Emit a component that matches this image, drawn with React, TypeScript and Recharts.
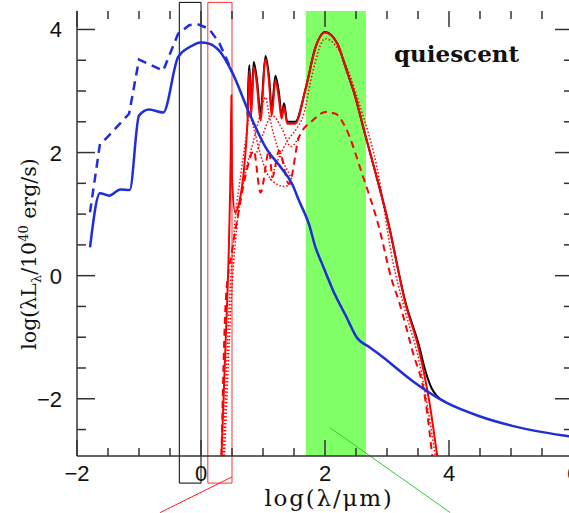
import {
	Label,
	Line,
	LineChart,
	ReferenceArea,
	ReferenceLine,
	XAxis,
	YAxis
} from 'recharts';

type Pt = { x: number; y: number };

// log(lambda/um) vs log(lambda L_lambda / 1e40 erg/s)
const xTicks = [-2, -1.5, -1, -0.5, 0, 0.5, 1, 1.5, 2, 2.5, 3, 3.5, 4, 4.5, 5, 5.5, 6];
const yTicks = [-2.5, -2, -1.5, -1, -0.5, 0, 0.5, 1, 1.5, 2, 2.5, 3, 3.5, 4];
const xLabels = [-2, 0, 2, 4, 6];
const yLabels = [-2, 0, 2, 4];

const starX = [-1.79, -1.63, -1.48, -1.3, -1.15, -1.0, -0.84, -0.61, -0.37, -0.19, 0.0, 0.13, 0.29, 0.5, 0.77, 1.04, 1.31, 1.47, 1.58, 1.74, 1.85, 1.95, 2.13, 2.35, 2.51, 2.73, 2.94, 3.41, 3.95, 4.48, 5.02, 5.56, 6.0];
const starY = [0.46, 1.34, 1.3, 1.4, 1.39, 2.6, 2.7, 2.65, 3.55, 3.71, 3.79, 3.77, 3.66, 3.31, 2.66, 2.09, 1.73, 1.49, 1.22, 0.84, 0.45, 0.2, -0.24, -0.68, -1.0, -1.17, -1.33, -1.71, -2.06, -2.28, -2.44, -2.55, -2.62];

const intrX = [-1.79, -1.63, -1.54, -1.16, -1.0, -0.61, -0.37, -0.19, -0.06, 0.13, 0.29, 0.4, 0.5];
const intrY = [1.03, 2.14, 2.22, 2.63, 3.51, 3.33, 3.93, 4.07, 4.09, 4.01, 3.79, 3.55, 3.31];

const dustX = [0.33, 0.4, 0.45, 0.48, 0.49, 0.5, 0.55, 0.62, 0.7, 0.75, 0.78, 0.81, 0.85, 0.9, 0.96, 1.04, 1.1, 1.14, 1.2, 1.26, 1.3, 1.34, 1.39, 1.52, 1.69, 1.85, 2.0, 2.2, 2.33, 2.49, 2.63, 2.82, 3.0, 3.3, 3.52, 3.68, 3.81];
const dustY = [-2.93, -1.0, 0.5, 2.0, 2.93, 1.6, 1.03, 1.2, 1.8, 2.5, 3.33, 2.6, 3.39, 3.12, 2.52, 3.52, 3.12, 2.6, 3.17, 2.85, 2.55, 2.74, 2.47, 2.47, 3.05, 3.72, 3.95, 3.77, 3.39, 2.9, 2.36, 1.65, 0.95, -0.46, -1.22, -2.03, -2.93];

const totalX = [0.75, 0.78, 0.81, 0.85, 0.9, 0.96, 1.04, 1.1, 1.14, 1.2, 1.26, 1.3, 1.34, 1.39, 1.52, 1.69, 1.85, 2.0, 2.2, 2.33, 2.49, 2.63, 2.82, 3.0, 3.3, 3.52, 3.62, 3.72, 3.8, 3.95];
const totalY = [2.6, 3.42, 2.75, 3.47, 3.2, 2.65, 3.57, 3.2, 2.7, 3.25, 2.95, 2.6, 2.8, 2.5, 2.5, 3.05, 3.72, 3.96, 3.77, 3.39, 2.9, 2.36, 1.65, 0.95, -0.44, -1.15, -1.55, -1.83, -1.95, -2.06];

const coldX = [0.33, 0.4, 0.5, 0.6, 0.75, 0.85, 0.96, 1.1, 1.15, 1.26, 1.42, 1.58, 1.8, 2.01, 2.17, 2.33, 2.6, 2.87, 3.08, 3.19, 3.41, 3.62, 3.73];
const coldY = [-2.93, -0.4, 0.4, 1.0, 1.76, 2.03, 1.35, 2.03, 1.6, 2.03, 1.49, 2.25, 2.52, 2.66, 2.63, 2.41, 1.65, 0.79, -0.08, -0.41, -1.22, -2.03, -2.93];

const compAX = [0.36, 0.45, 0.55, 0.65, 0.72, 0.78, 0.85, 0.95, 1.05, 1.2, 1.35, 1.45];
const compAY = [-2.93, -0.6, 0.9, 1.7, 2.2, 2.6, 2.4, 2.0, 1.7, 1.5, 1.45, 1.5];
const compBX = [0.38, 0.5, 0.6, 0.7, 0.85, 0.95, 1.04, 1.1, 1.2, 1.3, 1.4, 1.47];
const compBY = [-2.93, -0.2, 1.0, 1.6, 2.2, 2.6, 2.9, 2.6, 2.2, 1.9, 1.7, 1.55];
const compCX = [1.12, 1.25, 1.4, 1.55, 1.65, 1.8, 2.0, 2.2, 2.55, 2.87, 3.08, 3.3, 3.52, 3.78];
const compCY = [1.55, 1.9, 2.2, 2.4, 2.6, 3.3, 3.85, 3.7, 2.8, 1.6, 0.3, -0.6, -1.4, -2.93];
const compDX = [0.9, 1.0, 1.15, 1.3, 1.45, 1.6];
const compDY = [2.0, 2.3, 2.6, 2.4, 2.1, 2.3];

const zip = (xs: number[], ys: number[]): Pt[] => xs.map((x, i) => ({ x, y: ys[i] }));

const star = zip(starX, starY);
const intrinsic = zip(intrX, intrY);
const dust = zip(dustX, dustY);
const total = zip(totalX, totalY);
const cold = zip(coldX, coldY);
const comps = [zip(compAX, compAY), zip(compBX, compBY), zip(compCX, compCY), zip(compDX, compDY)];

const X_DOMAIN: [number, number] = [-2, 6];
const Y_DOMAIN: [number, number] = [-2.93, 4.3];
// plot box is 496 x 445 px; tick lengths converted to data units
const xPerPx = (X_DOMAIN[1] - X_DOMAIN[0]) / 496;
const yPerPx = (Y_DOMAIN[1] - Y_DOMAIN[0]) / 445;

const fmt = (v: number) => (v < 0 ? '\u2212' + Math.abs(v) : String(v));
const AX = '#333';

function BottomTick({ x, y, payload }: any) {
	if (!xLabels.includes(payload.value)) return null;
	return (
		<text x={x} y={y + 25} textAnchor="middle" fontFamily="Liberation Sans" fontSize={22} fill="#111">
			{fmt(payload.value)}
		</text>
	);
}

function LeftTick({ x, y, payload }: any) {
	if (!yLabels.includes(payload.value)) return null;
	return (
		<text x={x - 15} y={y + 8} textAnchor="end" fontFamily="Liberation Sans" fontSize={22} fill="#111">
			{fmt(payload.value)}
		</text>
	);
}

function YTitle() {
	const cx = 36;
	const cy = 254;
	return (
		<text
			x={cx}
			y={cy}
			transform={`rotate(-90, ${cx}, ${cy})`}
			textAnchor="middle"
			fontFamily="DejaVu Serif"
			fontSize={20.5}
			fill="#111"
		>
			log(λL
			<tspan dy={5} fontSize={13}>λ</tspan>
			<tspan dy={-5}>/10</tspan>
			<tspan dy={-8} fontSize={13}>40</tspan>
			<tspan dy={8}> erg/s)</tspan>
		</text>
	);
}

function XTitle() {
	return (
		<text x={329} y={506} textAnchor="middle" fontFamily="DejaVu Serif" fontSize={23} letterSpacing={1.8} fill="#111">
			log(λ/μm)
		</text>
	);
}

const BLUE = '#1e2ed8';
const RED = '#ff0000';

// inward tick marks on all four sides
const tickSegs = [
	...xTicks.map((v) => {
		const len = (xLabels.includes(v) ? 16 : 8) * yPerPx;
		return [
			[{ x: v, y: Y_DOMAIN[0] }, { x: v, y: Y_DOMAIN[0] + len }],
			[{ x: v, y: Y_DOMAIN[1] }, { x: v, y: Y_DOMAIN[1] - len }]
		];
	}),
	...yTicks.map((v) => {
		const len = (yLabels.includes(v) ? 18 : 9) * xPerPx;
		return [
			[{ x: X_DOMAIN[0], y: v }, { x: X_DOMAIN[0] + len, y: v }],
			[{ x: X_DOMAIN[1], y: v }, { x: X_DOMAIN[1] - len, y: v }]
		];
	})
].flat();

export default function App() {
	return (
		<div style={{ position: 'fixed', left: 0, top: 0, width: 569, height: 513, overflow: 'hidden', background: '#fff' }}>
			<LineChart width={580} height={513} margin={{ top: 11, right: 7, bottom: 0, left: 0 }}>
				<XAxis
					dataKey="x"
					type="number"
					domain={X_DOMAIN}
					ticks={xTicks}
					interval={0}
					allowDataOverflow
					height={57}
					tickSize={0}
					tickMargin={0}
					tickLine={false}
					tick={<BottomTick />}
					axisLine={{ stroke: AX, strokeWidth: 1.5 }}
				>
					<Label content={<XTitle />} />
				</XAxis>
				<XAxis
					xAxisId="top"
					orientation="top"
					dataKey="x"
					type="number"
					domain={X_DOMAIN}
					height={0}
					tick={false}
					tickLine={false}
					axisLine={{ stroke: AX, strokeWidth: 1.5 }}
				/>
				<YAxis
					type="number"
					domain={Y_DOMAIN}
					ticks={yTicks}
					interval={0}
					allowDataOverflow
					width={77}
					tickSize={0}
					tickMargin={0}
					tickLine={false}
					tick={<LeftTick />}
					axisLine={{ stroke: AX, strokeWidth: 1.5 }}
				>
					<Label content={<YTitle />} />
				</YAxis>
				<YAxis
					yAxisId="right"
					orientation="right"
					type="number"
					domain={Y_DOMAIN}
					width={0}
					tick={false}
					tickLine={false}
					axisLine={{ stroke: AX, strokeWidth: 1.5 }}
				/>

				<ReferenceArea x1={1.69} x2={2.66} y1={Y_DOMAIN[0]} y2={Y_DOMAIN[1]} fill="#80ff66" fillOpacity={1} stroke="none" />
				{tickSegs.map((s, i) => (
					<ReferenceLine key={'t' + i} segment={s} ifOverflow="visible" stroke={AX} strokeWidth={1.5} />
				))}
				<ReferenceArea x1={-0.35} x2={0.0} y1={-3.37} y2={4.44} ifOverflow="visible" fill="none" stroke="#000" strokeWidth={1} />
				<ReferenceArea x1={0.11} x2={0.5} y1={-3.37} y2={4.44} ifOverflow="visible" fill="none" stroke="#ff3030" strokeWidth={1} />
				<ReferenceLine segment={[{ x: 0.5, y: -3.27 }, { x: -0.66, y: -3.85 }]} ifOverflow="visible" stroke="#ff2020" strokeWidth={1} />
				<ReferenceLine segment={[{ x: 2.08, y: -2.47 }, { x: 4.02, y: -3.85 }]} ifOverflow="visible" stroke="#33cc33" strokeWidth={1} />

				{comps.map((c, i) => (
					<Line key={i} data={c} dataKey="y" type="monotoneX" stroke={RED} strokeWidth={1.5} strokeDasharray="1.5 2" dot={false} isAnimationActive={false} />
				))}
				<Line data={cold} dataKey="y" type="monotoneX" stroke={RED} strokeWidth={2} strokeDasharray="7 5" dot={false} isAnimationActive={false} />
				<Line data={total} dataKey="y" type="monotoneX" stroke="#000" strokeWidth={2} dot={false} isAnimationActive={false} />
				<Line data={dust} dataKey="y" type="monotoneX" stroke={RED} strokeWidth={2} dot={false} isAnimationActive={false} />
				<Line data={intrinsic} dataKey="y" type="linear" stroke={BLUE} strokeWidth={2.5} strokeDasharray="9 6" dot={false} isAnimationActive={false} />
				<Line data={star} dataKey="y" type="monotoneX" stroke={BLUE} strokeWidth={2.5} dot={false} isAnimationActive={false} />
			</LineChart>
			<div
				style={{
					position: 'absolute',
					left: 394,
					top: 42,
					fontFamily: 'DejaVu Serif',
					fontWeight: 'bold',
					fontSize: 23,
					lineHeight: 1,
					color: '#111'
				}}
			>
				quiescent
			</div>
		</div>
	);
}
